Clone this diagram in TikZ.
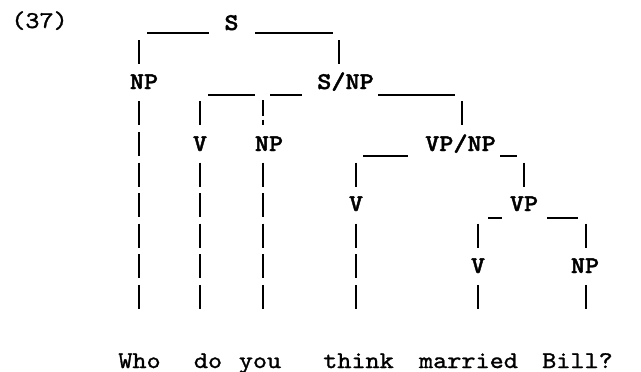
\documentclass[tikz,border=0pt]{standalone}
\usepackage{fontspec}
% typewriter faces: heavy for categories, medium for the sentence
\newfontfamily\twlabel{lmmonolt10-bold}[Extension=.otf, FakeStretch=1.12, FakeBold=1.6]
\newfontfamily\twword{lmmono10-regular}[Extension=.otf, FakeStretch=1.12, FakeBold=1.2]
\begin{document}
\begin{tikzpicture}[x=1pt,y=-1pt,
  lbl/.style={font=\twlabel\fontsize{24}{24}\selectfont, inner sep=0pt, anchor=base},
  word/.style={font=\twword\fontsize{24}{24}\selectfont, inner sep=0pt, anchor=base},
  rule/.style={line width=1.9pt},
  faint/.style={line width=1.5pt}]
\useasboundingbox (0,0) rectangle (641,372);

% example number
\node[word] (ex) at (39.5,28) {(37)};

% category labels, one typed row every second line
\node[lbl] (s)    at (231.5,30) {S};
\node[lbl] (np1)  at (144,89)   {NP};
\node[lbl] (snp)  at (345.5,89) {S/NP};
\node[lbl] (v1)   at (200,151)  {V};
\node[lbl] (np2)  at (269,151)  {NP};
\node[lbl] (vpnp) at (460.5,151) {VP/NP};
\node[lbl] (v2)   at (356,211)  {V};
\node[lbl] (vp)   at (524,211)  {VP};
\node[lbl] (v3)   at (478,273)  {V};
\node[lbl] (np3)  at (585,273)  {NP};

% the sentence
\node[word] (w1) at (139.5,368) {Who};
\node[word] (w2) at (208,368)   {do};
\node[word] (w3) at (260,368)   {you};
\node[word] (w4) at (358.5,368) {think};
\node[word] (w5) at (468.5,368) {married};
\node[word] (w6) at (577.5,368) {Bill?};

% typed underscores joining daughters under each mother
\draw[rule] (147,33) -- (209,33);
\draw[rule] (255,33) -- (333,33);
\draw[rule] (208,95) -- (255,95);
\draw[rule] (270,95) -- (302,95);
\draw[rule] (378,95) -- (455,95);
\draw[rule] (363,156) -- (408,156);
\draw[rule] (500,156) -- (517,156);
\draw[rule] (488,218) -- (502,218);
\draw[rule] (547,218) -- (578,218);

% typed bars: column x / line number k
\foreach \cx/\k in {139/1,139/3,139/4,139/5,139/6,139/7,139/8,139/9,
                    200/3,200/5,200/6,200/7,200/8,200/9,
                    263/5,263/6,263/7,263/8,263/9,
                    339/1,
                    356/5,356/7,356/8,356/9,
                    462/3,
                    524/5,
                    478/7,478/9,
                    586/7,586/9}
  \draw[rule] (\cx,{21.5+30.6*\k-12}) -- (\cx,{21.5+30.6*\k+12});

% broken bar above the object NP
\draw[faint] (263,100) -- (263,116);
\draw[faint] (263,119.5) -- (263,125);
\end{tikzpicture}
\end{document}
